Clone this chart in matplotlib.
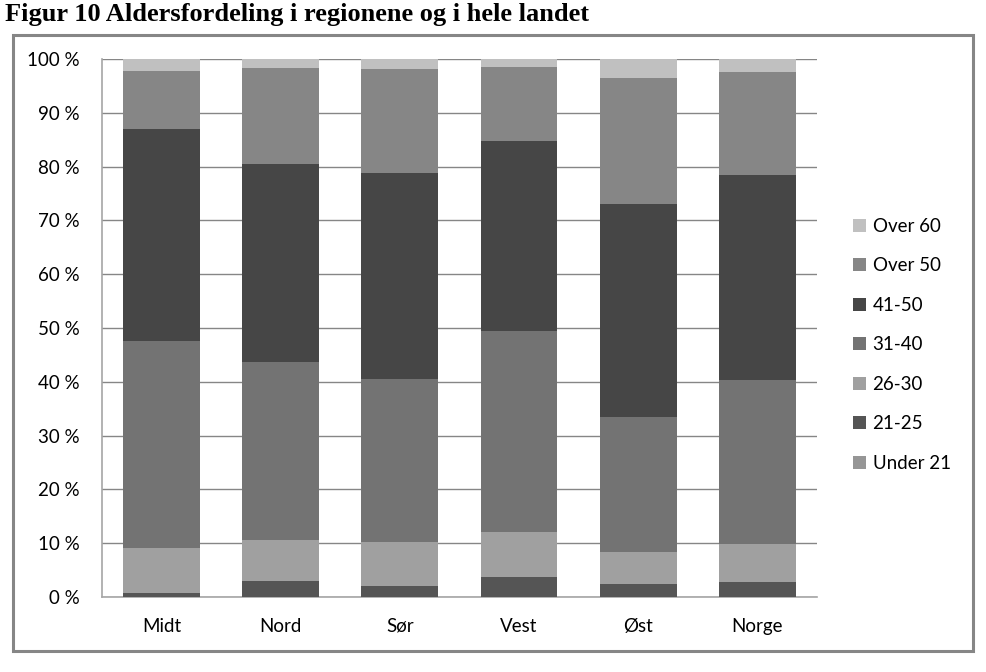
import matplotlib
matplotlib.use("Agg")  # headless
import matplotlib.pyplot as plt
import numpy as np
from matplotlib.patches import Rectangle
from matplotlib.ticker import FuncFormatter
from matplotlib.transforms import blended_transform_factory

# Data (percent per age group)
regions = ["Midt", "Nord", "Sør", "Vest", "Øst", "Norge"]
age_groups = ["Under 21", "21-25", "26-30", "31-40", "41-50", "Over 50", "Over 60"]
under_21 = [0.0, 0.0, 0.0, 0.0, 0.0, 0.0]
age_21_25 = [0.7, 3.0, 2.0, 3.7, 2.5, 2.7]
age_26_30 = [8.4, 7.6, 8.2, 8.4, 5.8, 7.2]
age_31_40 = [38.4, 33.0, 30.3, 37.4, 25.2, 30.4]
age_41_50 = [39.5, 36.9, 38.3, 35.3, 39.5, 38.1]
over_50 = [10.8, 17.9, 19.3, 13.7, 23.5, 19.2]
over_60 = [2.2, 1.6, 1.9, 1.5, 3.5, 2.4]

series = [under_21, age_21_25, age_26_30, age_31_40, age_41_50, over_50, over_60]
colors = ["#969696", "#555555", "#a0a0a0", "#737373", "#464646", "#868686", "#c0c0c0"]

fig = plt.figure(figsize=(9.86, 6.72), dpi=100)
ax = fig.add_axes([0.1034, 0.1116, 0.7252, 0.8006])

# Outer grey frame around the chart area
fig.patches.append(Rectangle((13 / 986, 21 / 672), 960 / 986, 616 / 672,
                             transform=fig.transFigure, fill=False,
                             edgecolor="#868686", linewidth=2.2))

fig.text(5 / 986, 1 - 15 / 672, "Figur 10 Aldersfordeling i regionene og i hele landet",
         family="Liberation Serif", fontweight="bold", fontsize=19, va="center", ha="left")

x = np.arange(len(regions))
bottom = np.zeros(len(regions))
handles = []
for vals, col, lab in zip(series, colors, age_groups):
    vals = np.array(vals)
    h = ax.bar(x, vals, bottom=bottom, width=0.645, color=col, label=lab, zorder=3)
    handles.append(h)
    bottom += vals

ax.set_xlim(-0.5, len(regions) - 0.5)
ax.set_ylim(0, 100)
ax.set_yticks(np.arange(0, 101, 10))
ax.yaxis.set_major_formatter(FuncFormatter(lambda v, _: f"{int(v)} %"))
ax.set_xticks(x, labels=[])
ax.grid(axis="y", color="#868686", linewidth=1, zorder=0)
ax.tick_params(axis="y", length=0, labelsize=13.5, pad=16)
ax.tick_params(axis="x", length=0)
for lbl in ax.get_yticklabels():
    lbl.set_family("Lato")

# category names on a common baseline (so "Sør"/"Øst" line up with the rest)
trans = blended_transform_factory(ax.transData, ax.transAxes)
for xi, name in zip(x, regions):
    ax.text(xi, -0.065, name, transform=trans, ha="center", va="baseline",
            family="Lato", fontsize=13.5)

for side in ("top", "right"):
    ax.spines[side].set_visible(False)
for side in ("left", "bottom"):
    ax.spines[side].set_color("#a6a6a6")
    ax.spines[side].set_linewidth(1.2)

fig.legend(handles[::-1], age_groups[::-1], loc="center left",
           bbox_to_anchor=(836 / 986, 1 - 345 / 672), frameon=False,
           prop={"family": "Lato", "size": 13.5}, handlelength=0.7, handleheight=0.7,
           handletextpad=0.35, labelspacing=1.2)

fig.savefig("out.png", dpi=100)
plt.close(fig)
